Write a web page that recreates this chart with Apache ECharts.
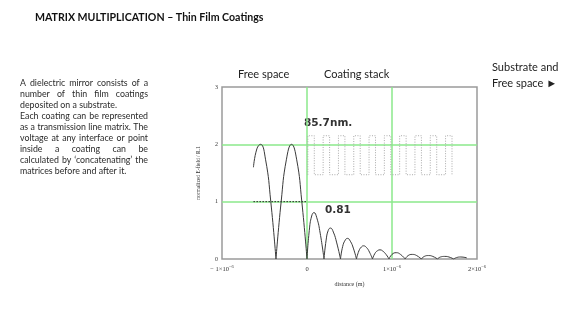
<!DOCTYPE html>
<html><head><meta charset="utf-8">
<script src="https://cdn.jsdelivr.net/npm/echarts@6/dist/echarts.min.js"></script>
<style>html,body{margin:0;padding:0;background:#fff}#c{width:571px;height:320px}</style>
</head><body><div id="c"></div>
<script>
// x values in micrometres (1 unit = 1×10^-6 m)
const xTicks = [-1, 0, 1, 2];
const yTicks = [0, 1, 2, 3];
// normalized E-field, free space region (standing wave)
const fieldArcs = [
  [[-0.63,1.6],[-0.59,1.92],[-0.547,2.0],[-0.487,1.73],[-0.426,1.0],[-0.365,0]],
  [[-0.365,0],[-0.304,1.0],[-0.243,1.73],[-0.182,2.0],[-0.121,1.73],[-0.061,1.0],[0,0]],
  // coating stack region
  [[0,0],[0.027,0.5],[0.055,0.75],[0.082,0.81],[0.115,0.72],[0.155,0.45],[0.2,0]],
  [[0.2,0],[0.225,0.33],[0.25,0.5],[0.276,0.54],[0.31,0.47],[0.35,0.28],[0.394,0]],
  [[0.394,0],[0.42,0.22],[0.45,0.33],[0.476,0.36],[0.51,0.31],[0.545,0.19],[0.582,0]],
  [[0.582,0],[0.61,0.14],[0.64,0.21],[0.665,0.23],[0.70,0.2],[0.735,0.12],[0.77,0]],
  [[0.77,0],[0.80,0.1],[0.83,0.145],[0.859,0.16],[0.89,0.14],[0.93,0.08],[0.965,0]],
  [[0.965,0],[1.0,0.08],[1.05,0.11],[1.1,0.08],[1.155,0]],
  [[1.155,0],[1.19,0.06],[1.24,0.08],[1.29,0.06],[1.345,0]],
  [[1.345,0],[1.38,0.045],[1.43,0.06],[1.48,0.045],[1.535,0]],
  [[1.535,0],[1.57,0.035],[1.62,0.045],[1.67,0.035],[1.725,0]],
  [[1.725,0],[1.76,0.025],[1.81,0.035],[1.88,0.02]]
];
// dotted reference level in free space
const refLine = [[-0.63,1],[0,1]];
// refractive index profile of the stack (layer boundaries, µm)
const stackEdges = [0.01,0.086,0.19,0.266,0.37,0.446,0.55,0.626,0.73,0.806,0.91,0.986,1.09,1.166,1.27,1.346,1.45,1.526,1.63,1.706];
const nHigh = 2.15, nLow = 1.47;

const textLines = [
  ["A dielectric mirror consists of a", true],
  ["number of thin film coatings", true],
  ["deposited on a substrate.", false],
  ["Each coating can be represented", true],
  ["as a transmission line matrix. The", true],
  ["voltage at any interface or point", true],
  ["inside a coating can be", true],
  ["calculated by \u2018concatenating\u2019 the", true],
  ["matrices before and after it.", false]
];

const chart = echarts.init(document.getElementById('c'));
const green = '#8be88b';
const stackPts = [];
stackEdges.forEach((e, i) => {
  const high = i % 2 === 0;
  if (i === 0) stackPts.push([e, nLow]);
  stackPts.push([e, high ? nLow : nHigh]);
  stackPts.push([e, high ? nHigh : nLow]);
});

const series = fieldArcs.map(arc => ({
  type: 'line', data: arc, smooth: 0.5, symbol: 'none',
  lineStyle: {color: '#3a3a3a', width: 1}, z: 5, silent: true
}));
series.push({type:'line', data: refLine, symbol:'none', lineStyle:{color:'#222', width:1, type:[1.5,1.5]}, z:4});
series.push({type:'line', data: stackPts, symbol:'none', lineStyle:{color:'#aaa', width:1, type:[1,1.5]}, z:4});

// justified paragraph
const ctx = document.createElement('canvas').getContext('2d');
const pSize = 8.8;
ctx.font = pSize + 'px Lato';
const graphics = [];
const pLeft = 20, pWidth = 128, pTop = 79, pLH = 11, minGap = 2.3;
const pStyle = t => ({text: t, fontSize: pSize, fontFamily: 'Lato', fill: '#2a2a2a'});
textLines.forEach(([line, just], i) => {
  const y = pTop + i * pLH;
  if (!just) {
    graphics.push({type:'text', x: pLeft, y: y, style: pStyle(line)});
    return;
  }
  const words = line.split(' ');
  const widths = words.map(w => ctx.measureText(w).width);
  const total = widths.reduce((a,b)=>a+b,0);
  let s = 1;
  if (total + minGap * (words.length - 1) > pWidth) s = pWidth / (total + minGap * (words.length - 1));
  const gap = (pWidth - total * s) / (words.length - 1);
  let x = pLeft;
  words.forEach((w, k) => {
    graphics.push({type:'text', x: x, y: y, scaleX: s, style: pStyle(w)});
    x += widths[k] * s + gap;
  });
});
graphics.push({type:'text', x:35, y:12, style:{text:'MATRIX MULTIPLICATION \u2013 Thin Film Coatings', font:'bold 10.6px Lato', fill:'#111'}});
graphics.push({type:'text', x:238, y:69, style:{text:'Free space', font:'11px Lato', fill:'#222'}});
graphics.push({type:'text', x:324, y:69, style:{text:'Coating stack', font:'11px Lato', fill:'#222'}});
graphics.push({type:'text', x:492, y:62, style:{text:'Substrate and', font:'11px Lato', fill:'#222'}});
graphics.push({type:'text', x:492, y:78, style:{text:'Free space \u25BA', font:'11px Lato', fill:'#222'}});
graphics.push({type:'text', x:304, y:118, style:{text:'85.7nm.', font:'bold 10.5px "DejaVu Sans"', fill:'#333'}});
graphics.push({type:'text', x:325, y:205, style:{text:'0.81', font:'bold 10.5px "DejaVu Sans"', fill:'#333'}});

chart.setOption({
  animation: false,
  grid: {left:222, top:87, width:255, height:172, show:true, borderColor:'#9a9a9a', borderWidth:1.5},
  xAxis: {
    type:'value', min: xTicks[0], max: xTicks[xTicks.length-1], interval: 1,
    name: 'distance (m)', nameLocation:'middle', nameGap: 22,
    nameTextStyle:{fontFamily:'Liberation Serif', fontSize:6, color:'#333'},
    axisLine:{show:false}, axisTick:{show:false},
    splitLine:{show:true, lineStyle:{color:['transparent', green, green, 'transparent'], width:1.5}},
    axisLabel:{
      margin: 5,
      formatter: v => v === 0 ? '{a|0}' : (v < 0 ? '{a|\u2212 ' + Math.abs(v) + '\u00d710}{s|\u22126}' : '{a|' + v + '\u00d710}{s|\u22126}'),
      rich: {a:{fontFamily:'Liberation Serif', fontSize:6.5, color:'#333', lineHeight:9, verticalAlign:'bottom'},
             s:{fontFamily:'Liberation Serif', fontSize:4.5, color:'#333', lineHeight:9, verticalAlign:'top'}}
    }
  },
  yAxis: {
    type:'value', min: yTicks[0], max: yTicks[yTicks.length-1], interval: 1,
    name: 'normalized E-field / R.1', nameLocation:'middle', nameGap: 20, nameRotate: 90,
    nameTextStyle:{fontFamily:'Liberation Serif', fontSize:5.5, color:'#333'},
    axisLine:{show:false}, axisTick:{show:false},
    splitLine:{show:true, lineStyle:{color:['transparent', green, green, 'transparent'], width:1.5}},
    axisLabel:{fontFamily:'Liberation Serif', fontSize:6, color:'#333', margin:4}
  },
  series: series,
  graphic: graphics
});
</script></body></html>
